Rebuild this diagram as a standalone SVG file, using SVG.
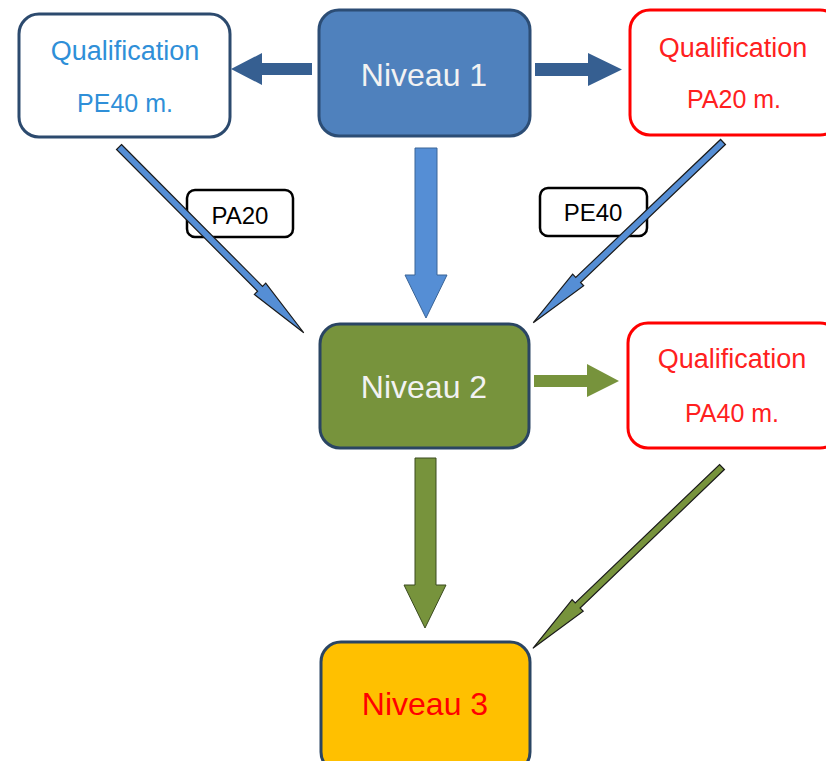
<svg xmlns="http://www.w3.org/2000/svg" width="826" height="761" viewBox="0 0 826 761">
<style>
text{font-family:"Liberation Sans",Arial,sans-serif;text-anchor:middle}
.qual{font-size:27px}
.sub{font-size:25px}
.niv{font-size:32px}
.lbl{font-size:24px;fill:#000}
.box{stroke-width:3}
.diag{stroke:#1a1a1a;stroke-width:1.2}
</style>
<defs>
<path id="diagArrow" d="M0,-3.5 L200,-3.5 L200,-8 L262,0 L200,8 L200,3.5 L0,3.5 Z"/>
</defs>
<rect width="826" height="761" fill="#fff"/>

<g id="qual-pe40">
<rect class="box" x="19" y="14" width="211" height="123" rx="20" fill="#fff" stroke="#2C4A6E"/>
<text class="qual" x="125" y="60" fill="#2F8FD8">Qualification</text>
<text class="sub" x="125" y="112" fill="#2F8FD8">PE40 m.</text>
</g>

<g id="niveau1">
<rect class="box" x="319" y="10" width="211" height="126" rx="20" fill="#4F81BD" stroke="#2C4D75"/>
<text class="niv" x="424" y="86" fill="#F2F2F2">Niveau 1</text>
</g>

<g id="qual-pa20">
<rect class="box" x="630" y="10" width="210" height="125" rx="20" fill="#fff" stroke="#FF0000"/>
<text class="qual" x="733" y="57" fill="#FF2020">Qualification</text>
<text class="sub" x="734" y="108" fill="#FF2020">PA20 m.</text>
</g>

<g id="niveau2">
<rect class="box" x="320" y="324" width="209" height="124" rx="20" fill="#77933C" stroke="#2A4563"/>
<text class="niv" x="424" y="398" fill="#F2F2F2">Niveau 2</text>
</g>

<g id="qual-pa40">
<rect class="box" x="628" y="323" width="212" height="125" rx="20" fill="#fff" stroke="#FF0000"/>
<text class="qual" x="732" y="368" fill="#FF2020">Qualification</text>
<text class="sub" x="732" y="422" fill="#FF2020">PA40 m.</text>
</g>

<g id="niveau3">
<rect class="box" x="321" y="642" width="209" height="130" rx="20" fill="#FFC000" stroke="#2A4563"/>
<text class="niv" x="425" y="715" fill="#FF0000">Niveau 3</text>
</g>

<g id="label-pa20">
<rect x="187" y="190" width="106" height="47" rx="8" fill="#fff" stroke="#000" stroke-width="2.5"/>
<text class="lbl" x="240" y="224">PA20</text>
</g>

<g id="label-pe40">
<rect x="540" y="188" width="107" height="48" rx="8" fill="#fff" stroke="#000" stroke-width="2.5"/>
<text class="lbl" x="593" y="221">PE40</text>
</g>

<g id="connectors">
<polygon points="312,63 262,63 262,53 231,69 262,85 262,75 312,75" fill="#365F91"/>
<polygon points="535,63 588,63 588,53 622,69.5 588,86 588,76 535,76" fill="#365F91"/>
<polygon points="415,148 437,148 437,275 447,275 426,318 405,275 415,275" fill="#558ED5" stroke="#3A6497" stroke-width="1"/>
<use href="#diagArrow" class="diag" fill="#558ED5" transform="translate(119,147) rotate(45.15)"/>
<use href="#diagArrow" class="diag" fill="#558ED5" transform="translate(723,142) rotate(136.4)"/>
<polygon points="534,375 587,375 587,364 619,381 587,397 587,387 534,387" fill="#77933C"/>
<polygon points="415,458 436,458 436,585 446,585 425,628 404,585 415,585" fill="#77933C" stroke="#3a4a1e" stroke-width="1"/>
<use href="#diagArrow" class="diag" fill="#77933C" transform="translate(722,467) rotate(136.2)"/>
</g>
</svg>
